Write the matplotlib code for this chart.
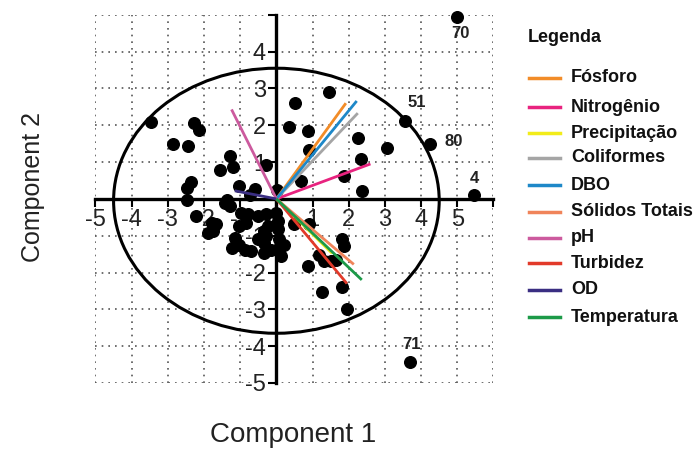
import matplotlib
matplotlib.use('Agg')
import matplotlib.pyplot as plt
from matplotlib.patches import Ellipse
from matplotlib.lines import Line2D

plt.rcParams['font.family'] = ['Liberation Sans', 'DejaVu Sans']

# scores (component 1, component 2)
score_x = [-3.46, -2.28, -2.13, -2.86, -2.43, -1.29, -1.19, -1.56, -0.29, -2.35, -2.47, -1.03,
           -0.58, -0.74, 0.03, -2.46, -1.37,
           -1.43, -1.29, -0.97, -0.79, -0.51, -0.28, -2.21, -1.79, -1.66, -1.89, -1.75, -1.02,
           -0.83, -1.15, -1.02, -1.24, -0.88, -0.70, -0.51, -0.33, -0.28, -0.33, -0.15, -0.24, -0.33,
           0.00, 0.04, 0.04, 0.08, 0.08, 0.13, 0.22,
           0.49, 0.91, 1.82, 1.87, 0.86, 1.18, 1.32, 1.50, 1.64, 1.27, 1.82, 1.96,
           1.46, 0.52, 0.34, 0.86, 0.89, 2.26, 3.06, 2.35, 1.87, 0.68, 2.37]
score_y = [2.08, 2.07, 1.88, 1.49, 1.44, 1.17, 0.87, 0.79, 0.92, 0.46, 0.30, 0.36,
           0.27, 0.11, 0.25, -0.04, -0.04,
           -0.10, -0.19, -0.37, -0.42, -0.47, -0.42, -0.47, -0.65, -0.69, -0.92, -0.88, -0.74,
           -0.65, -1.06, -1.24, -1.33, -1.38, -1.42, -1.10, -1.20, -1.01, -1.47, -1.38, -0.74, -0.88,
           -0.37, -0.60, -0.83, -1.10, -1.33, -1.56, -1.24,
           -0.69, -0.69, -1.10, -1.29, -1.81, -1.52, -1.70, -1.70, -1.65, -2.52, -2.38, -2.99,
           2.90, 2.61, 1.95, 1.84, 1.33, 1.66, 1.38, 1.09, 0.63, 0.49, 0.22]

# labelled outliers
out_labels = ['70', '51', '80', '4', '71']
out_x = [5.00, 3.56, 4.25, 5.47, 3.70]
out_y = [4.95, 2.12, 1.48, 0.11, -4.44]
out_offsets = [(2, -12), (8, 13), (17, 2), (0, 12), (1, 13)]

# loadings
var_names = ['Fósforo', 'Nitrogênio', 'Precipitação', 'Coliformes', 'DBO',
             'Sólidos Totais', 'pH', 'Turbidez', 'OD', 'Temperatura']
load_x = [1.92, 2.60, 1.54, 2.25, 2.22, 2.14, -1.24, 1.95, -1.15, 2.36]
load_y = [2.60, 0.95, -1.48, 2.33, 2.66, -1.78, 2.43, -2.30, 0.22, -2.20]
var_colors = ['#F28C28', '#E8237F', '#F2EC1A', '#A5A5A5', '#1E88C8',
              '#F0845A', '#CC5A9E', '#E23A2A', '#3A2E82', '#1C9A48']

fig = plt.figure(figsize=(6.97, 4.5), dpi=100)
ax = fig.add_axes([0.137, 0.149, 0.571, 0.818])
ax.set_xlim(-5, 6)
ax.set_ylim(-5, 5)

# dotted grid
ax.set_xticks(range(-5, 7))
ax.set_yticks(range(-5, 6))
ax.grid(True, color='#555555', linestyle=(0, (1, 3)), linewidth=1.2)
ax.set_axisbelow(True)

for s in ['top', 'right']:
    ax.spines[s].set_visible(False)
for s in ['left', 'bottom']:
    ax.spines[s].set_position('zero')
    ax.spines[s].set_linewidth(2.4)
ax.tick_params(direction='out', length=6, width=1.5, labelsize=17, labelcolor='#222222', pad=1.5)
ax.set_xticklabels([str(v) if v not in (0, 6) else '' for v in range(-5, 7)])
ax.set_yticklabels([str(v) if v not in (0, 5) else '' for v in range(-5, 6)])

ax.add_patch(Ellipse((0, -0.05), 9.0, 7.2, fill=False, edgecolor='black', linewidth=2.2, zorder=2))

ax.scatter(score_x, score_y, s=70, color='black', zorder=3, clip_on=False)
ax.scatter(out_x, out_y, s=70, color='black', zorder=3, clip_on=False)
for lab, x, y, off in zip(out_labels, out_x, out_y, out_offsets):
    ax.annotate(lab, (x, y), xytext=off, textcoords='offset points', ha='center', va='center',
                fontsize=12, fontweight='bold', color='#222222', annotation_clip=False)

for x, y, c in zip(load_x, load_y, var_colors):
    ax.plot([0, x], [0, y], color=c, linewidth=2, zorder=4, solid_capstyle='butt')

# legend drawn by hand
fig.text(528 / 697, 1 - 38 / 450, 'Legenda', fontsize=13, fontweight='bold', va='center', color='#111111')
row_y = [78, 107, 133, 158, 185, 212, 238, 263, 290, 317]
for name, c, py in zip(var_names, var_colors, row_y):
    fy = 1 - py / 450
    fig.add_artist(Line2D([529 / 697, 560 / 697], [fy, fy], color=c, linewidth=2.5))
    fig.text(571 / 697, fy, name, fontsize=13, fontweight='bold', va='center', color='#111111')

fig.text(293 / 697, 1 - 435 / 450, 'Component 1', fontsize=20, ha='center', va='center', color='#222222')
fig.text(33 / 697, 1 - 187 / 450, 'Component 2', fontsize=18, rotation=90, ha='center', va='center',
         color='#222222')

fig.savefig('out.png', dpi=100)
